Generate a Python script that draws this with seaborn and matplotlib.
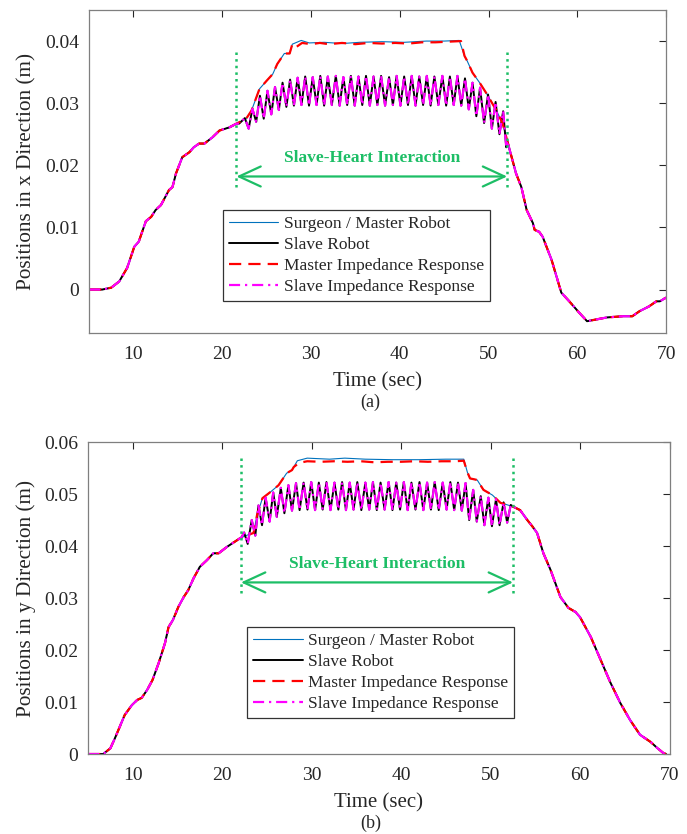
import matplotlib
matplotlib.use("Agg")
import matplotlib.pyplot as plt
import seaborn as sns
import pandas as pd

OUTPUT_IMAGE = "out.png"
C_MASTER = "#0072BD"
C_SLAVE = "black"
C_MIMP = "#FF0000"
C_SIMP = "#FF00FF"
C_GREEN = "#1DBE66"

# ---------------- (a) x direction ----------------
# surgeon / master robot, x
xm_t = [5, 6.5, 7.5, 8.4, 9.3, 10.1, 10.6, 11.4, 12.0, 12.5, 13.1, 14.0, 14.4, 14.8,
        15.5, 16.3, 16.8, 17.4, 18.0, 18.9, 19.7, 20.8, 21.6, 22.7, 23.3, 24.2, 25.0,
        25.7, 26.2, 27.0, 27.6, 27.9, 28.9, 29.8, 31.5, 33.5, 35.5, 38.0, 40.5, 43.0,
        45.0, 46.7, 47.3, 47.6, 48.2, 49.0, 49.8, 50.9, 51.6, 52.1, 53.1, 53.7, 54.3,
        55.0, 55.2, 55.7, 56.1, 57.1, 58.2, 59.1, 60.2, 61.1, 62.2, 63.3, 65.1, 66.2,
        67.0, 68.1, 68.9, 69.3, 70.0]
xm_y = [0, 0, 0.0003, 0.0013, 0.0035, 0.0069, 0.0077, 0.0110, 0.0117, 0.0128, 0.0136,
        0.0160, 0.0165, 0.0187, 0.0213, 0.0221, 0.0229, 0.0235, 0.0235, 0.0245, 0.0256,
        0.0261, 0.0267, 0.0275, 0.0288, 0.0323, 0.0336, 0.0347, 0.0363, 0.0380, 0.0380,
        0.0395, 0.0401, 0.0397, 0.0398, 0.0396, 0.0398, 0.0399, 0.0398, 0.0400, 0.0400,
        0.0401, 0.0376, 0.0368, 0.0349, 0.0333, 0.0315, 0.0288, 0.0267, 0.0240, 0.0187,
        0.0165, 0.0128, 0.0107, 0.0096, 0.0093, 0.0085, 0.0048, -0.0005, -0.0019,
        -0.0037, -0.0051, -0.0048, -0.0045, -0.0043, -0.0043, -0.0035, -0.0027,
        -0.0019, -0.0019, -0.0013]
# master impedance plateau (slightly below the master)
xmi_plat_t = [28.3, 29.0, 30.0, 31.0, 32.0, 33.5, 35.0, 36.5, 38.0, 39.5, 41.0, 42.5,
              44.0, 45.5, 46.9]
xmi_plat_y = [0.0390, 0.0397, 0.0395, 0.0397, 0.0395, 0.0397, 0.0395, 0.0397, 0.0396,
              0.0397, 0.0396, 0.0398, 0.0398, 0.0399, 0.0400]
# slave robot oscillations during the slave-heart interaction, x
xs_osc_t = [21.9, 22.55, 22.98, 23.4, 23.83, 24.25, 24.68, 25.1, 25.53, 25.95, 26.38,
            26.8, 27.23, 27.65, 28.08, 28.5, 28.93, 29.35, 29.78, 30.2, 30.63, 31.05,
            31.48, 31.9, 32.35, 32.8, 33.23, 33.65, 34.08, 34.5, 34.93, 35.35, 35.78,
            36.2, 36.63, 37.05, 37.48, 37.9, 38.35, 38.8, 39.23, 39.65, 40.08, 40.5,
            40.93, 41.35, 41.78, 42.2, 42.63, 43.05, 43.48, 43.9, 44.35, 44.8, 45.23,
            45.65, 46.08, 46.5, 46.93, 47.35, 47.78, 48.2, 48.63, 49.05, 49.5, 49.95,
            50.38, 50.8, 51.23, 51.65, 52.0]
xs_osc_y = [0.0267, 0.0276, 0.0259, 0.0291, 0.0270, 0.0312, 0.0275, 0.0320, 0.0282,
            0.0326, 0.0289, 0.0333, 0.0294, 0.0338, 0.0296, 0.0341, 0.0297, 0.0343,
            0.0296, 0.0342, 0.0297, 0.0344, 0.0296, 0.0343, 0.0297, 0.0344, 0.0296,
            0.0342, 0.0297, 0.0344, 0.0296, 0.0343, 0.0297, 0.0344, 0.0296, 0.0343,
            0.0297, 0.0344, 0.0296, 0.0342, 0.0297, 0.0344, 0.0296, 0.0343, 0.0297,
            0.0344, 0.0296, 0.0343, 0.0297, 0.0344, 0.0296, 0.0343, 0.0297, 0.0344,
            0.0296, 0.0343, 0.0297, 0.0344, 0.0296, 0.0340, 0.0290, 0.0333, 0.0279,
            0.0325, 0.0268, 0.0314, 0.0259, 0.0302, 0.0250, 0.0287, 0.0229]

# ---------------- (b) y direction ----------------
ym_t = [5, 6.7, 7.5, 8.0, 9.1, 9.9, 10.5, 11.0, 11.6, 12.2, 12.9, 13.6, 14.0, 14.5,
        15.1, 15.7, 16.2, 16.8, 17.5, 18.3, 19.0, 19.6, 20.5, 21.2, 22.0, 22.8, 23.5,
        23.9, 24.5, 25.4, 26.3, 27.2, 27.8, 28.4, 29.5, 32.0, 33.7, 36.0, 39.0, 42.0,
        45.0, 47.0, 47.4, 47.7, 48.5, 49.2, 50.2, 51.1, 51.9, 52.6, 53.3, 54.1, 54.7,
        55.2, 55.9, 56.7, 57.8, 58.7, 59.5, 60.0, 61.2, 62.3, 63.4, 64.5, 65.6, 66.7,
        67.9, 68.6, 69.3, 69.6]
ym_y = [0, 0, 0.0011, 0.0030, 0.0075, 0.0094, 0.0104, 0.0108, 0.0123, 0.0142, 0.0175,
        0.0213, 0.0244, 0.0258, 0.0283, 0.0302, 0.0315, 0.0338, 0.0360, 0.0373, 0.0386,
        0.0386, 0.0398, 0.0406, 0.0415, 0.0421, 0.0425, 0.0460, 0.0492, 0.0504, 0.0517,
        0.0540, 0.0546, 0.0564, 0.0569, 0.0567, 0.0569, 0.0567, 0.0566, 0.0566, 0.0567,
        0.0567, 0.0542, 0.0530, 0.0527, 0.0508, 0.0498, 0.0483, 0.0479, 0.0475, 0.0469,
        0.0450, 0.0437, 0.0425, 0.0386, 0.0354, 0.0302, 0.0281, 0.0273, 0.0263, 0.0225,
        0.0181, 0.0137, 0.0098, 0.0065, 0.0037, 0.0023, 0.0012, 0.0002, 0.0]
ymi_plat_t = [28.0, 28.6, 29.5, 31.0, 32.5, 34.0, 35.5, 37.0, 38.5, 40.0, 41.5, 43.0,
              44.5, 46.0, 47.0]
ymi_plat_y = [0.0552, 0.0560, 0.0563, 0.0562, 0.0563, 0.0562, 0.0563, 0.0561, 0.0562,
              0.0562, 0.0563, 0.0562, 0.0563, 0.0563, 0.0564]
ys_osc_t = [22.1, 22.45, 22.85, 23.3, 23.7, 24.05, 24.45, 24.85, 25.3, 25.7, 26.1,
            26.55, 26.95, 27.4, 27.8, 28.25, 28.65, 29.1, 29.53, 29.95, 30.38, 30.8,
            31.23, 31.65, 32.1, 32.55, 32.98, 33.4, 33.83, 34.25, 34.68, 35.1, 35.55,
            36.0, 36.43, 36.85, 37.28, 37.7, 38.15, 38.6, 39.03, 39.45, 39.88, 40.3,
            40.73, 41.15, 41.6, 42.05, 42.48, 42.9, 43.33, 43.75, 44.2, 44.65, 45.08,
            45.5, 45.93, 46.35, 46.78, 47.2, 47.6, 48.05, 48.45, 48.9, 49.3, 49.75,
            50.15, 50.6, 51.0, 51.45, 51.85, 52.25, 52.6]
ys_osc_y = [0.0415, 0.0426, 0.0404, 0.0450, 0.0420, 0.0478, 0.0440, 0.0493, 0.0447,
            0.0503, 0.0456, 0.0512, 0.0463, 0.0517, 0.0468, 0.0521, 0.0469, 0.0522,
            0.0470, 0.0523, 0.0469, 0.0522, 0.0470, 0.0523, 0.0469, 0.0522, 0.0470,
            0.0523, 0.0469, 0.0522, 0.0470, 0.0523, 0.0469, 0.0522, 0.0470, 0.0523,
            0.0469, 0.0522, 0.0470, 0.0523, 0.0469, 0.0522, 0.0470, 0.0523, 0.0469,
            0.0522, 0.0470, 0.0523, 0.0469, 0.0522, 0.0470, 0.0523, 0.0469, 0.0522,
            0.0470, 0.0523, 0.0469, 0.0522, 0.0468, 0.0521, 0.0450, 0.0508, 0.0447,
            0.0496, 0.0440, 0.0493, 0.0438, 0.0490, 0.0440, 0.0484, 0.0445, 0.0479,
            0.0475]

# annotation positions (time of interaction start/end)
x_span = [21.6, 52.1]
y_span = [22.1, 52.5]


def splice(base_t, base_y, ins_t, ins_y):
    """Replace the part of a base curve covered by the inserted points."""
    lo, hi = ins_t[0], ins_t[-1]
    t = [a for a in base_t if a < lo] + list(ins_t) + [a for a in base_t if a > hi]
    y = ([b for a, b in zip(base_t, base_y) if a < lo] + list(ins_y)
         + [b for a, b in zip(base_t, base_y) if a > hi])
    return t, y


def draw_panel(ax, m_t, m_y, plat_t, plat_y, osc_t, osc_y):
    mi_t, mi_y = splice(m_t, m_y, plat_t, plat_y)
    s_t, s_y = splice(m_t, m_y, osc_t, osc_y)
    series = [
        (m_t, m_y, C_MASTER, "-", 0.8, "Surgeon / Master Robot"),
        (s_t, s_y, C_SLAVE, "-", 1.4, "Slave Robot"),
        (mi_t, mi_y, C_MIMP, (0, (5.5, 3.2)), 1.6, "Master Impedance Response"),
        (s_t, s_y, C_SIMP, (0, (5, 2.2, 1, 2.2)), 1.6, "Slave Impedance Response"),
    ]
    for t, y, c, ls, lw, lab in series:
        df = pd.DataFrame({"t": t, "y": y})
        sns.lineplot(data=df, x="t", y="y", ax=ax, color=c, linestyle=ls,
                     linewidth=lw, label=lab, estimator=None, sort=False)


def style_axes(ax, ylim, yticks, ylabels, ylab):
    ax.set_xlim(5, 70)
    ax.set_ylim(*ylim)
    ax.set_xticks([10, 20, 30, 40, 50, 60, 70])
    ax.set_xticklabels(["10", "20", "30", "40", "50", "60", "70"])
    ax.set_yticks(yticks)
    ax.set_yticklabels(ylabels)
    ax.tick_params(direction="in", top=True, right=True, length=5, width=0.8,
                   labelsize=14, color="#262626", labelcolor="#262626", pad=7)
    ax.tick_params(axis="x", pad=9)
    for sp in ax.spines.values():
        sp.set_visible(True)
        sp.set_color("#7f7f7f")
        sp.set_linewidth(0.9)
    ax.set_xlabel("Time (sec)", fontsize=15, color="#262626", labelpad=7)
    ax.set_ylabel(ylab, fontsize=15.3, color="#262626", labelpad=6)


def annotate(ax, x0, x1, vtop, vbot, y_arrow, y_text):
    for xv in (x0, x1):
        ax.plot([xv, xv], [vbot, vtop], color=C_GREEN, linestyle=":", linewidth=1.8)
    ax.annotate("", xy=(x0, y_arrow), xytext=(x1, y_arrow),
                arrowprops=dict(arrowstyle="<->,head_length=1.3,head_width=0.6",
                                color=C_GREEN, lw=1.6, shrinkA=0, shrinkB=0))
    ax.text((x0 + x1) / 2, y_text, "Slave-Heart Interaction", color=C_GREEN,
            fontsize=12.5, fontweight="bold", ha="center", va="center")


def legend(ax, anchor):
    leg = ax.legend(loc="upper left", bbox_to_anchor=anchor, fontsize=12.5,
                    frameon=True, fancybox=False, framealpha=1, edgecolor="#333333",
                    borderpad=0.35, labelspacing=0.27, handlelength=2.85,
                    handletextpad=0.3, borderaxespad=0)
    leg.get_frame().set_linewidth(0.9)


def main():
    sns.set_theme(style="white")
    plt.rcParams["font.family"] = ["Liberation Serif", "DejaVu Serif"]

    fig = plt.figure(figsize=(6.87, 8.34), dpi=100)
    ax1 = fig.add_axes([0.1296, 0.6007, 0.8399, 0.3873])
    ax2 = fig.add_axes([0.1281, 0.0959, 0.8465, 0.3741])

    draw_panel(ax1, xm_t, xm_y, xmi_plat_t, xmi_plat_y, xs_osc_t, xs_osc_y)
    style_axes(ax1, (-0.007, 0.045), [0, 0.01, 0.02, 0.03, 0.04],
               ["0", "0.01", "0.02", "0.03", "0.04"], "Positions in x Direction (m)")
    annotate(ax1, x_span[0], x_span[1], 0.0389, 0.0165, 0.0182, 0.0212)
    legend(ax1, (0.232, 0.381))

    draw_panel(ax2, ym_t, ym_y, ymi_plat_t, ymi_plat_y, ys_osc_t, ys_osc_y)
    style_axes(ax2, (0, 0.06), [0, 0.01, 0.02, 0.03, 0.04, 0.05, 0.06],
               ["0", "0.01", "0.02", "0.03", "0.04", "0.05", "0.06"],
               "Positions in y Direction (m)")
    annotate(ax2, y_span[0], y_span[1], 0.0576, 0.0309, 0.0330, 0.0365)
    legend(ax2, (0.274, 0.407))

    fig.text(370 / 687, 1 - 402 / 834, "(a)", fontsize=13, ha="center", va="center",
             color="#262626")
    fig.text(371 / 687, 1 - 823 / 834, "(b)", fontsize=13, ha="center", va="center",
             color="#262626")

    fig.savefig(OUTPUT_IMAGE, dpi=100)


if __name__ == "__main__":
    main()
